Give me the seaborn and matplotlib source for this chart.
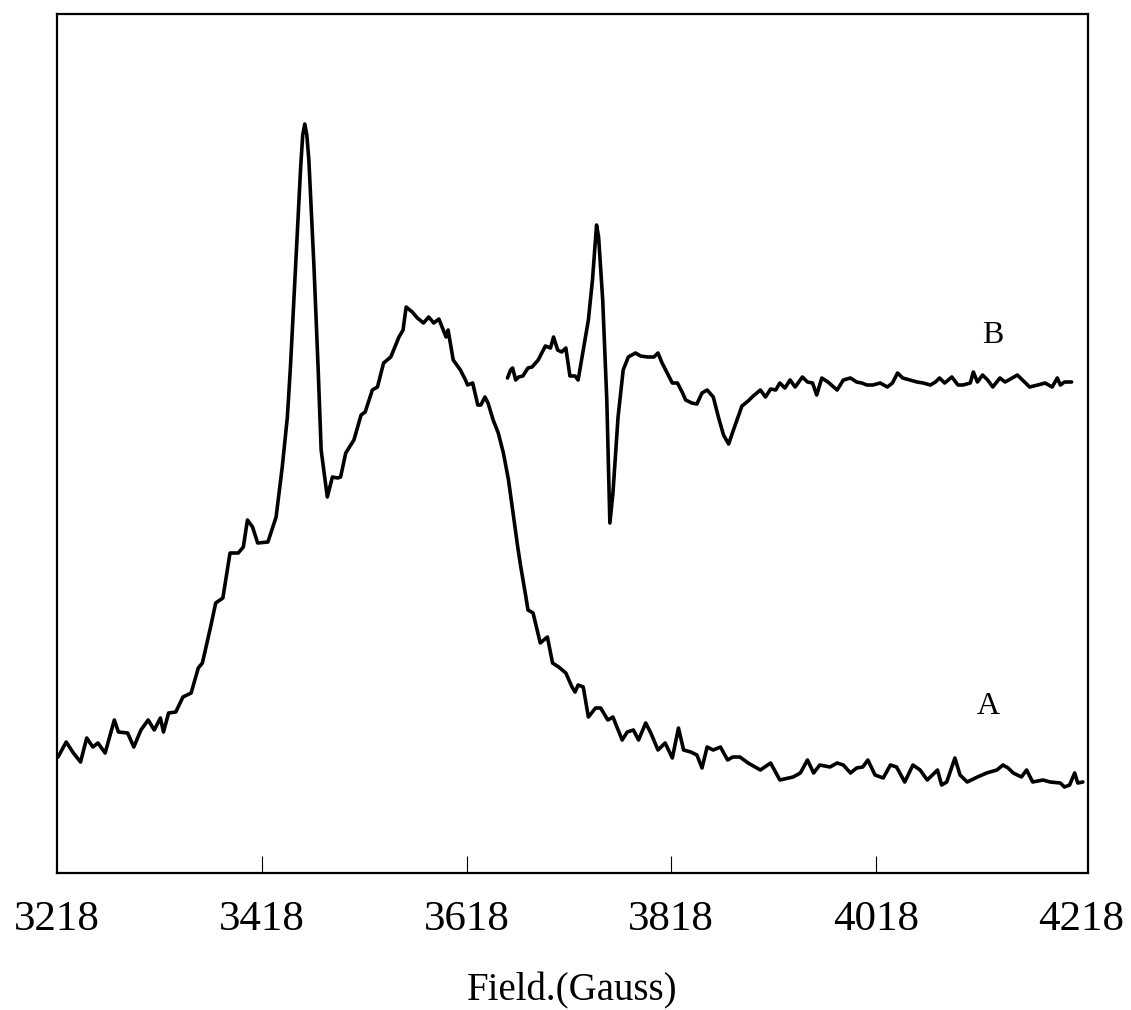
import matplotlib
matplotlib.use("Agg")
import matplotlib.pyplot as plt
import seaborn as sns
import pandas as pd

# ---- data (Field in Gauss, intensity in arbitrary units) ----
field_a = [3219, 3227, 3234, 3241, 3247, 3253, 3258, 3265, 3274, 3278, 3287, 3293, 3300, 3307,
           3313, 3319, 3322, 3327, 3334, 3341, 3349, 3356, 3360, 3368, 3373, 3380, 3387, 3395,
           3400, 3404, 3409, 3414, 3424, 3432, 3438, 3443, 3446, 3451, 3456, 3458, 3460, 3462,
           3464, 3469, 3473, 3476, 3482, 3487, 3492, 3495, 3500, 3508, 3515, 3519, 3526, 3531,
           3537, 3544, 3552, 3556, 3559, 3565, 3570, 3576, 3581, 3586, 3591, 3598, 3600, 3605,
           3612, 3617, 3619, 3624, 3629, 3632, 3636, 3639, 3644, 3649, 3654, 3659, 3664, 3668,
           3671, 3676, 3678, 3683, 3690, 3697, 3702, 3708, 3715, 3721, 3724, 3727, 3732, 3737,
           3744, 3749, 3756, 3761, 3770, 3775, 3781, 3786, 3793, 3798, 3805, 3812, 3819, 3825,
           3830, 3837, 3843, 3848, 3853, 3859, 3866, 3873, 3878, 3885, 3893, 3905, 3915, 3924,
           3937, 3944, 3951, 3957, 3963, 3973, 3980, 3986, 3993, 3999, 4005, 4010, 4017, 4025,
           4032, 4038, 4046, 4054, 4061, 4068, 4073, 4078, 4082, 4087, 4092, 4095, 4100, 4107,
           4117, 4126, 4136, 4142, 4147, 4152, 4160, 4165, 4171, 4181, 4188, 4198, 4202, 4207,
           4212, 4215, 4220]
intensity_a = [11.6, 13.1, 12.0, 11.1, 13.5, 12.6, 13.0, 12.0, 15.3, 14.1, 14.0, 12.6, 14.3, 15.3,
               14.3, 15.5, 14.1, 16.0, 16.1, 17.6, 18.0, 20.5, 21.0, 24.6, 27.0, 27.5, 32.0, 32.0,
               32.6, 35.3, 34.6, 33.0, 33.1, 35.6, 40.6, 45.6, 50.6, 60.6, 70.6, 73.8, 74.9, 73.8,
               71.3, 60.6, 50.6, 42.3, 37.6, 39.6, 39.5, 39.6, 42.0, 43.3, 45.8, 46.1, 48.3, 48.6,
               51.0, 51.6, 53.6, 54.3, 56.6, 56.1, 55.5, 55.0, 55.6, 55.0, 55.4, 53.6, 54.3, 51.3,
               50.3, 49.3, 48.8, 49.0, 46.8, 46.8, 47.6, 47.0, 45.3, 44.0, 42.0, 39.3, 35.6, 32.6,
               30.6, 27.6, 26.3, 26.0, 23.0, 23.6, 21.0, 20.6, 20.0, 18.6, 18.1, 18.8, 18.6, 15.6,
               16.5, 16.5, 15.3, 15.6, 13.3, 14.1, 14.3, 13.3, 15.0, 14.0, 12.3, 13.0, 11.5, 14.5,
               12.3, 12.1, 11.8, 10.5, 12.6, 12.3, 12.6, 11.3, 11.6, 11.6, 11.0, 10.3, 11.0, 9.3,
               9.6, 10.0, 11.3, 10.0, 10.8, 10.6, 11.0, 10.8, 10.0, 10.5, 10.6, 11.3, 9.8, 9.5,
               10.8, 10.6, 9.1, 10.8, 10.3, 9.3, 9.8, 10.3, 8.8, 9.1, 10.6, 11.5, 9.8, 9.1,
               9.6, 10.0, 10.3, 10.8, 10.5, 10.0, 9.6, 10.3, 9.1, 9.3, 9.1, 9.0, 8.6, 8.8,
               10.0, 9.0, 9.1]

field_b = [3658, 3661, 3663, 3666, 3669, 3673, 3678, 3682, 3688, 3695, 3700, 3703, 3707, 3711,
           3715, 3719, 3724, 3727, 3732, 3737, 3741, 3745, 3747, 3751, 3755, 3758, 3761, 3766,
           3771, 3776, 3783, 3788, 3795, 3801, 3805, 3809, 3814, 3819, 3824, 3829, 3832, 3838,
           3843, 3848, 3853, 3859, 3864, 3869, 3874, 3878, 3887, 3893, 3898, 3905, 3910, 3915,
           3920, 3924, 3929, 3934, 3939, 3946, 3951, 3956, 3960, 3965, 3971, 3980, 3986, 3993,
           3999, 4004, 4009, 4015, 4022, 4029, 4034, 4039, 4044, 4051, 4058, 4064, 4071, 4076,
           4080, 4085, 4092, 4098, 4103, 4110, 4113, 4117, 4122, 4127, 4132, 4139, 4144, 4151,
           4156, 4161, 4168, 4176, 4183, 4190, 4195, 4198, 4202, 4209]
intensity_b = [49.5, 50.3, 50.5, 49.3, 49.6, 49.7, 50.5, 50.6, 51.3, 52.7, 52.5, 53.6, 52.3, 52.1,
               52.5, 49.7, 49.7, 49.3, 52.3, 55.3, 59.3, 64.8, 63.6, 57.3, 47.3, 35.0, 38.0, 45.6,
               50.3, 51.6, 52.0, 51.7, 51.6, 51.6, 52.0, 51.0, 50.0, 49.0, 49.0, 48.0, 47.3, 47.0,
               46.9, 48.0, 48.3, 47.6, 45.6, 43.8, 42.9, 44.1, 46.7, 47.2, 47.7, 48.3, 47.6, 48.4,
               48.3, 49.0, 48.5, 49.3, 48.6, 49.6, 49.1, 49.0, 47.8, 49.5, 49.1, 48.3, 49.3, 49.5,
               49.1, 49.0, 48.8, 48.8, 49.0, 48.6, 49.0, 50.0, 49.5, 49.3, 49.1, 49.0, 48.8, 49.1,
               49.5, 49.0, 49.6, 48.8, 48.8, 49.0, 50.1, 49.1, 49.8, 49.3, 48.6, 49.5, 49.1, 49.5,
               49.8, 49.3, 48.6, 48.8, 49.0, 48.6, 49.5, 48.8, 49.1, 49.1]

tick_values = [3218, 3418, 3618, 3818, 4018, 4218]
tick_labels = ["3218", "3418", "3618", "3818", "4018", "4218"]
series_labels = ["A", "B"]
label_pos_field = [4128, 4132]
label_pos_int = [16.6, 53.8]
x_label = "Field.(Gauss)"

# ---- plot ----
sns.set_theme(style="white")
plt.rcParams["font.family"] = ["Liberation Serif", "DejaVu Serif"]
plt.rcParams["text.color"] = "black"
plt.rcParams["axes.labelcolor"] = "black"
plt.rcParams["xtick.color"] = "black"

W, H = 1131, 1010
fig = plt.figure(figsize=(W / 100, H / 100), dpi=100)
ax = fig.add_axes([57 / W, (H - 873) / H, (1088 - 57) / W, (873 - 14) / H])

df_a = pd.DataFrame({"field": field_a, "intensity": intensity_a})
df_b = pd.DataFrame({"field": field_b, "intensity": intensity_b})
sns.lineplot(data=df_a, x="field", y="intensity", color="black", lw=2.6,
             estimator=None, sort=False, ax=ax)
sns.lineplot(data=df_b, x="field", y="intensity", color="black", lw=2.6,
             estimator=None, sort=False, ax=ax)

for lab, fx, fy in zip(series_labels, label_pos_field, label_pos_int):
    ax.text(fx, fy, lab, fontsize=23, ha="center", va="center", color="black")

ax.set_xlim(3219, 4225)
ax.set_ylim(0, 85.9)
ax.set_xticks(tick_values)
ax.set_xticklabels(tick_labels, fontsize=31, color="black")
ax.set_yticks([])
ax.set_ylabel("")
ax.set_xlabel(x_label, fontsize=28, labelpad=24, color="black")
ax.tick_params(axis="x", direction="in", length=12, width=0.8, color="black",
               labelcolor="black", pad=20, bottom=True)
ticks = ax.xaxis.get_major_ticks()
ticks[0].tick1line.set_visible(False)
ticks[-1].tick1line.set_visible(False)
for s in ax.spines.values():
    s.set_visible(True)
    s.set_color("black")
    s.set_linewidth(1.6)
ax.set_facecolor("white")
fig.patch.set_facecolor("white")

fig.savefig("out.png", dpi=100, facecolor="white")
